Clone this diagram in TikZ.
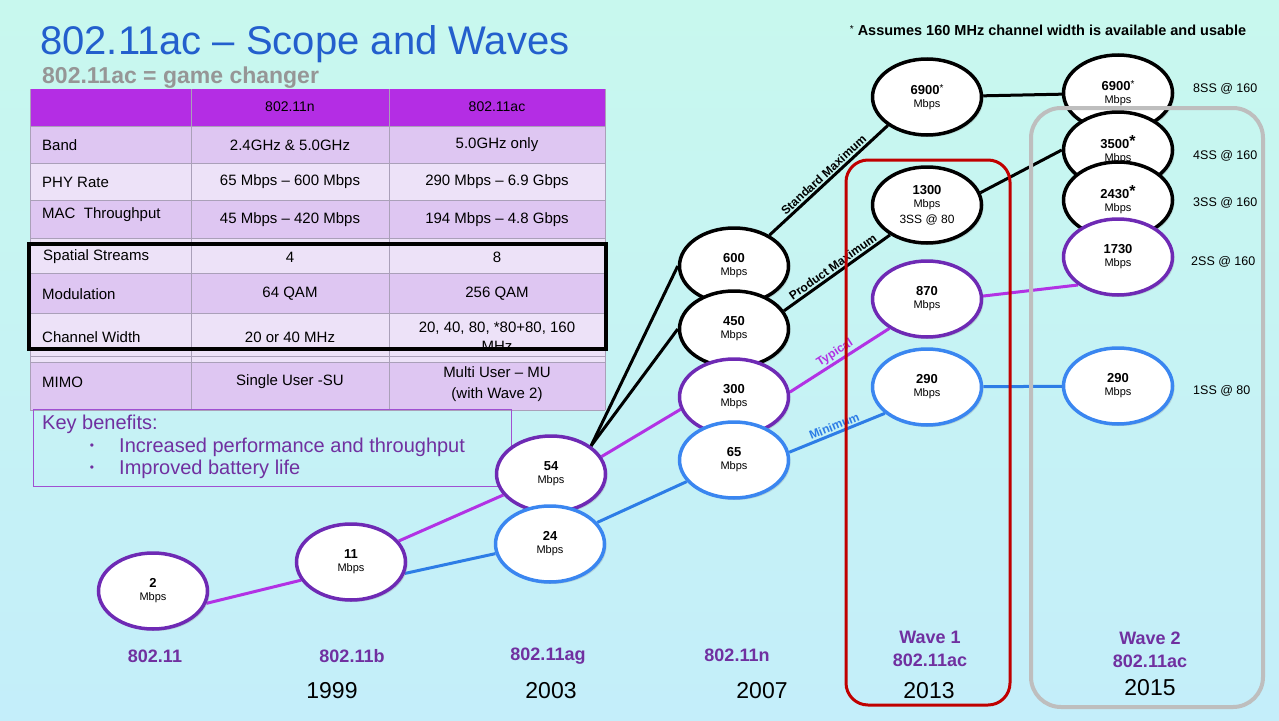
\documentclass[tikz,border=0pt]{standalone}
\usepackage{fontspec}
\setmainfont{Liberation Sans}
\usetikzlibrary{shapes.geometric,shadows}
\definecolor{bgtop}{RGB}{200,248,238}
\definecolor{bgbot}{RGB}{196,238,250}
\definecolor{titleblue}{RGB}{35,95,205}
\definecolor{subgray}{RGB}{150,150,150}
\definecolor{thead}{RGB}{180,45,228}
\definecolor{rowd}{RGB}{222,198,242}
\definecolor{rowl}{RGB}{237,226,248}
\definecolor{gridc}{RGB}{170,160,185}
\definecolor{ellpurple}{RGB}{110,42,180}
\definecolor{ellblue}{RGB}{58,134,240}
\definecolor{linepurple}{RGB}{178,50,228}
\definecolor{lineblue}{RGB}{45,125,230}
\definecolor{lblpurple}{RGB}{112,48,160}
\definecolor{kbborder}{RGB}{160,80,210}
\definecolor{wave1red}{RGB}{192,0,0}
\definecolor{wave2gray}{RGB}{190,190,190}
\newcommand{\fsz}[2]{\fontsize{#1}{#2}\selectfont}
\newcommand{\mb}[1]{{\fsz{13}{15}\bfseries #1}\\[1pt]{\fsz{11}{13}Mbps}}
\pgfdeclarelayer{bgl}
\pgfdeclarelayer{lns}
\pgfsetlayers{bgl,lns,main}
\begin{document}
\begin{tikzpicture}[x=1pt,y=-1pt,
  ell/.style={ellipse, minimum width=109pt, minimum height=76pt, inner sep=0pt, fill=white, line width=3.5pt, align=center,
    drop shadow={shadow xshift=2pt, shadow yshift=-2pt, opacity=0.25}},
  pe/.style={ell, draw=ellpurple},
  be/.style={ell, draw=ellblue},
  ke/.style={ell, draw=black},
  pline/.style={draw=linepurple, line width=3pt},
  bline/.style={draw=lineblue, line width=3pt},
  kline/.style={draw=black, line width=3pt},
  lbl/.style={font=\fsz{12}{13}\bfseries, inner sep=1.5pt},
  tl/.style={anchor=west, inner sep=0pt, font=\fsz{15}{18}, text=black},
  tc/.style={inner sep=0pt, align=center, font=\fsz{15}{19}, text=black},
  kb/.style={inner sep=0pt, font=\fsz{20}{22}, text=lblpurple},
  std/.style={inner sep=0pt, font=\fsz{18}{20}\bfseries, text=lblpurple},
  yr/.style={inner sep=0pt, font=\fsz{23}{26}, text=black},
  ss/.style={anchor=west, inner sep=0pt, font=\fsz{12.5}{14}, text=black}
]
\useasboundingbox (0,0) rectangle (1279,720);
\begin{pgfonlayer}{bgl}
\shade[top color=bgtop, bottom color=bgbot] (0,0) rectangle (1279,720);
\end{pgfonlayer}

% title
\node[anchor=base west, inner sep=0pt, font=\fsz{40}{44}, text=titleblue] (title) at (40,54) {802.11ac – Scope and Waves};
\node[anchor=base west, inner sep=0pt, font=\fsz{23}{26}\bfseries, text=subgray] (sub) at (42,83) {802.11ac = game changer};
\node[inner sep=0pt, font=\fsz{14.5}{16}\bfseries] (note) at (1048,30) {\raisebox{3pt}{\fsz{10}{10}\mdseries *} Assumes 160 MHz channel width is available and usable};

% table
\fill[thead] (30,89) rectangle (605,126);
\fill[rowd] (30,126) rectangle (605,163);
\fill[rowl] (30,163) rectangle (605,200);
\fill[rowd] (30,200) rectangle (605,238);
\fill[rowl] (30,238) rectangle (605,273);
\fill[rowd] (30,273) rectangle (605,313);
\fill[rowl] (30,313) rectangle (605,362);
\fill[rowd] (30,362) rectangle (605,410);
\foreach \yy in {126,163,200,238,244,273,313,356,362,410}
  \draw[gridc, line width=1pt] (30,\yy) -- (605,\yy);
\draw[gridc, line width=1pt] (191,89) -- (191,410) (389,89) -- (389,410) (605,89) -- (605,410) (30,89) -- (30,410);

\node[tc, font=\fsz{14}{16}] (h2) at (290,107) {802.11n};
\node[tc, font=\fsz{14}{16}] (h3) at (497,107) {802.11ac};
\node[tl] (r1a) at (42,145) {Band};
\node[tc] (r1b) at (290,145) {2.4GHz \& 5.0GHz};
\node[tc] (r1c) at (497,145) {5.0GHz only};
\node[tl] (r2a) at (42,182) {PHY Rate};
\node[tc] (r2b) at (290,182) {65 Mbps – 600 Mbps};
\node[tc] (r2c) at (497,182) {290 Mbps – 6.9 Gbps};
\node[tl] (r3a) at (42,215) {MAC\ \ Throughput};
\node[tc] (r3b) at (290,220) {45 Mbps – 420 Mbps};
\node[tc] (r3c) at (497,220) {194 Mbps – 4.8 Gbps};
\node[tl] (r4a) at (43,257) {Spatial\ Streams};
\node[tc] (r4b) at (290,257) {4};
\node[tc] (r4c) at (497,257) {8};
\node[tl] (r5a) at (42,294) {Modulation};
\node[tc] (r5b) at (290,294) {64 QAM};
\node[tc] (r5c) at (497,294) {256 QAM};
\node[tl] (r6a) at (42,337) {Channel Width};
\node[tc] (r6b) at (290,337) {20 or 40 MHz};
\node[tc] (r6c) at (497,337) {20, 40, 80, *80+80, 160\\MHz};
\node[tl] (r7a) at (42,382) {MIMO};
\node[tc] (r7b) at (290,382) {Single User -SU};
\node[tc, font=\fsz{15}{21}] (r7c) at (497,384) {Multi User – MU\\(with Wave 2)};
\draw[black, line width=3.5pt] (29,244) rectangle (606,349);

% key benefits
\draw[kbborder, line width=1pt] (33,409) rectangle (511,486);
\node[kb, anchor=west] (kbt) at (42,424) {Key benefits:};
\node[kb, anchor=center, font=\fsz{12}{12}] (kbb1) at (92,447) {•};
\node[kb, anchor=west] (kb1) at (119,447) {Increased performance and throughput};
\node[kb, anchor=center, font=\fsz{12}{12}] (kbb2) at (92,469) {•};
\node[kb, anchor=west] (kb2) at (119,469) {Improved battery life};

% ellipses
\node[pe] (e2) at (153,591) {\mb{2}};
\node[pe] (e11) at (351,562) {\mb{11}};
\node[pe] (e54) at (551,474) {\mb{54}};
\node[be] (e24) at (550,544) {\mb{24}};
\node[ke] (e600) at (734,266) {\mb{600}};
\node[ke] (e450) at (734,329) {\mb{450}};
\node[pe] (e300) at (734,397) {\mb{300}};
\node[be] (e65) at (734,460) {\mb{65}};
\node[ke] (e6900a) at (927,97) {\mb{6900\raisebox{3pt}{\fsz{10}{10}\mdseries *}}};
\node[ke] (e1300) at (927,205) {{\fsz{13}{15}\bfseries 1300}\\[1pt]{\fsz{11}{13}Mbps}\\[4pt]{\fsz{12}{14}3SS @ 80}};
\node[pe] (e870) at (927,299) {\mb{870}};
\node[be] (e290) at (927,387) {\mb{290}};
\node[ke] (e6900b) at (1118,93) {\mb{6900\raisebox{3pt}{\fsz{10}{10}\mdseries *}}};

% wave boxes
\draw[wave1red, line width=3pt, rounded corners=22pt] (846,160) rectangle (1010,705);
\draw[wave2gray, line width=4pt, rounded corners=30pt] (1031,108) rectangle (1263,707);

\node[ke] (e3500) at (1118,150) {\mb{3500\raisebox{2pt}{\fsz{16}{16}*}}};
\node[ke] (e2430) at (1118,200) {\mb{2430\raisebox{2pt}{\fsz{16}{16}*}}};
\node[pe] (e1730) at (1118,257) {\mb{1730}};
\node[be] (e290b) at (1118,386) {\mb{290}};

% connectors
\begin{pgfonlayer}{lns}
\draw[pline] (e2.347) -- (e11.200);
\draw[pline] (e11) -- (e54);
\draw[pline] (e54.19) -- (e300.193);
\draw[pline] (e300.5) -- node[lbl, sloped, above, text=linepurple] (lt) {Typical} (e870.218);
\draw[pline] (e870.3) -- (e1730.215);
\draw[bline] (e11.348) -- (e24.190);
\draw[bline] (e24) -- (e65);
\draw[bline] (e65.8) -- node[lbl, sloped, above, text=lineblue] (lm) {Minimum} (e290.212);
\draw[bline] (e290) -- (e290b);
\draw[kline] (e54.35) -- (e600.180);
\draw[kline] (e54.35) -- (e450.180);
\draw[kline] (e600.41) -- node[lbl, sloped, above] (ls) {Standard Maximum} (e6900a.216);
\draw[kline] (e450.20) -- node[lbl, sloped, above] (lp) {Product Maximum} (e1300.219);
\draw[kline] (e6900a) -- (e6900b);
\draw[kline] (e1300.13) -- (e3500.180);
\end{pgfonlayer}

% right labels
\node[ss] (s8) at (1193,89) {8SS @ 160};
\node[ss] (s4) at (1193,156) {4SS @ 160};
\node[ss] (s3) at (1193,203) {3SS @ 160};
\node[ss] (s2) at (1191,262) {2SS @ 160};
\node[ss] (s1) at (1193,391) {1SS @ 80};

% bottom labels
\node[std] (b1) at (155,656) {802.11};
\node[std] (b2) at (352,656) {802.11b};
\node[std] (b3) at (548,656) {802.11ag};
\node[std] (b4) at (737,655) {802.11n};
\node[std] (w1a) at (930,637) {Wave 1};
\node[std] (w1b) at (930,660) {802.11ac};
\node[std] (w2a) at (1150,638) {Wave 2};
\node[std] (w2b) at (1150,661) {802.11ac};
\node[yr] (y1) at (332,691) {1999};
\node[yr] (y2) at (551,691) {2003};
\node[yr] (y3) at (762,691) {2007};
\node[yr] (y4) at (929,691) {2013};
\node[yr] (y5) at (1150,688) {2015};
\end{tikzpicture}
\end{document}
